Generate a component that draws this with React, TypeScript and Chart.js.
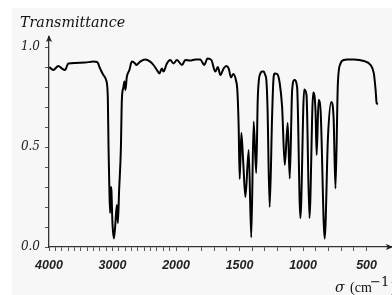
import React, { useEffect, useRef } from 'react';
import {
  Chart,
  LineController,
  LineElement,
  PointElement,
  LinearScale,
} from 'chart.js';

// ---- data (wavenumber in cm^-1, transmittance) ----
const wavenumbers = [
  3995, 3932, 3853, 3800, 3748, 3696, 3590, 3432, 3301, 3243, 3196, 3144, 3101, 3074,
  3063, 3050, 3038, 3025, 3017, 3001, 2979, 2959, 2932, 2916, 2896, 2869, 2853, 2828,
  2812, 2797, 2775, 2734, 2696, 2644, 2625, 2565, 2486, 2407, 2355, 2302, 2261, 2223,
  2198, 2144, 2092, 2040, 1993, 1953, 1927, 1888, 1849, 1809, 1778, 1752, 1722, 1691,
  1671, 1651, 1625, 1604, 1586, 1567, 1549, 1529, 1517, 1507, 1499, 1486, 1472, 1454,
  1428, 1408, 1389, 1369, 1357, 1348, 1336, 1322, 1310, 1298, 1289, 1280, 1263, 1244,
  1234, 1223, 1204, 1184, 1165, 1144, 1121, 1105, 1086, 1068, 1047, 1021, 991, 973,
  950, 920, 902, 893, 878, 862, 830, 804, 778, 760, 745, 726, 705, 680, 652, 600, 521,
  469, 443, 429, 421, 411,
];
const transmittance = [
  0.9, 0.885, 0.905, 0.893, 0.885, 0.918, 0.92, 0.922, 0.927, 0.925, 0.893, 0.86, 0.835, 0.75,
  0.5, 0.3, 0.17, 0.3, 0.28, 0.12, 0.043, 0.1, 0.21, 0.12, 0.285, 0.485, 0.735, 0.8,
  0.827, 0.785, 0.85, 0.885, 0.927, 0.918, 0.91, 0.927, 0.938, 0.927, 0.91, 0.885, 0.868, 0.893,
  0.877, 0.918, 0.935, 0.918, 0.935, 0.91, 0.935, 0.932, 0.938, 0.937, 0.91, 0.943, 0.935, 0.877,
  0.9, 0.86, 0.893, 0.905, 0.893, 0.848, 0.865, 0.835, 0.78, 0.6, 0.34, 0.57, 0.435, 0.25,
  0.485, 0.048, 0.627, 0.37, 0.735, 0.835, 0.868, 0.877, 0.877, 0.86, 0.835, 0.7, 0.2, 0.65,
  0.83, 0.868, 0.865, 0.82, 0.7, 0.41, 0.62, 0.343, 0.785, 0.835, 0.8, 0.145, 0.788, 0.76,
  0.145, 0.772, 0.68, 0.46, 0.735, 0.68, 0.043, 0.55, 0.725, 0.65, 0.293, 0.82, 0.918, 0.935, 0.938, 0.938, 0.93,
  0.91, 0.868, 0.785, 0.72, 0.715,
];

const xLabelValues = [4000, 3000, 2000, 1500, 1000, 500];
const yLabelValues = [0, 0.5, 1.0];
const xMin = 300;
const xMax = 4000;
const xTickStep = 100;
const xTickLast = 500;
const yMin = 0;
const yMax = 1.05;
const yTickStep = 0.1;
const yTickTop = 1.0;
const xBreak = 2000; // scale is compressed 2x above this wavenumber

// ---- custom split scale (compressed above xBreak) ----
const fwd = (v: number) => (v > xBreak ? xBreak + (v - xBreak) / 2 : v);
const inv = (u: number) => (u > xBreak ? xBreak + (u - xBreak) * 2 : u);

class SplitScale extends LinearScale {
  static id = 'irsplit';
  static defaults = LinearScale.defaults;
  getPixelForValue(value: number) {
    const a = fwd(this.min);
    const b = fwd(this.max);
    return this.getPixelForDecimal((fwd(value) - a) / (b - a));
  }
  getValueForPixel(pixel: number) {
    const a = fwd(this.min);
    const b = fwd(this.max);
    return inv(a + this.getDecimalForPixel(pixel) * (b - a));
  }
}

Chart.register(LineController, LineElement, PointElement, LinearScale, SplitScale as any);

const SERIF = '"DejaVu Serif", serif';

const decor = {
  id: 'decor',
  afterDraw(chart: any) {
    const ctx = chart.ctx as CanvasRenderingContext2D;
    const { left, right, top, bottom } = chart.chartArea;
    ctx.save();
    ctx.fillStyle = '#222';
    // y arrow
    ctx.beginPath();
    ctx.moveTo(left, top - 2);
    ctx.lineTo(left - 3, top + 5);
    ctx.lineTo(left, top + 3.5);
    ctx.lineTo(left + 3, top + 5);
    ctx.closePath();
    ctx.fill();
    // x arrow
    ctx.beginPath();
    ctx.moveTo(right + 1, bottom);
    ctx.lineTo(right - 6, bottom - 3);
    ctx.lineTo(right - 4.5, bottom);
    ctx.lineTo(right - 6, bottom + 3);
    ctx.closePath();
    ctx.fill();
    // titles
    ctx.fillStyle = '#111';
    ctx.textBaseline = 'alphabetic';
    ctx.textAlign = 'left';
    ctx.font = 'italic 14.3px ' + SERIF;
    ctx.fillText('Transmittance', 8, 19);
    ctx.font = 'italic 14px ' + SERIF;
    ctx.fillText('σ', 323, 284);
    ctx.font = '14px "Liberation Serif", serif';
    ctx.fillText('(cm', 338, 284);
    ctx.font = '13px ' + SERIF;
    ctx.fillText('−1', 358, 278);
    ctx.font = '14px "Liberation Serif", serif';
    ctx.fillText(')', 379, 284);
    ctx.restore();
  },
};

export default function App() {
  const ref = useRef<HTMLCanvasElement | null>(null);
  useEffect(() => {
    if (!ref.current) return;
    const xTicks: number[] = [];
    for (let v = xMax; v >= xTickLast; v -= xTickStep) xTicks.push(v);
    const yTicks: number[] = [];
    for (let i = 0; i <= Math.round((yTickTop - yMin) / yTickStep); i++) yTicks.push(+(yMin + i * yTickStep).toFixed(2));

    const chart = new Chart(ref.current, {
      type: 'line',
      data: {
        datasets: [
          {
            data: wavenumbers.map((w, i) => ({ x: w, y: transmittance[i] })),
            borderColor: '#000',
            borderWidth: 2,
            pointRadius: 0,
            fill: false,
            cubicInterpolationMode: 'monotone',
            tension: 0.4,
          },
        ],
      },
      options: {
        responsive: false,
        animation: false,
        devicePixelRatio: 1,
        layout: { padding: { top: 29, left: 0, right: 0, bottom: 0 } },
        plugins: { legend: { display: false }, tooltip: { enabled: false } },
        scales: {
          x: {
            type: 'irsplit' as any,
            min: xMin,
            max: xMax,
            reverse: true,
            afterBuildTicks: (s: any) => {
              s.ticks = xTicks.map((v) => ({ value: v }));
            },
            afterFit: (s: any) => {
              s.height = 48;
            },
            grid: { display: true, drawOnChartArea: false, drawTicks: true, tickLength: 4, color: '#555', tickWidth: 1 },
            border: { display: true, color: '#333', width: 1.3 },
            ticks: {
              autoSkip: false,
              maxRotation: 0,
              padding: 7,
              color: '#222',
              font: { family: '"Liberation Sans", sans-serif', size: 12.5, style: 'italic', weight: 'bold' },
              callback: (v: any) => (xLabelValues.includes(v) ? String(v) : ''),
            },
          },
          y: {
            type: 'linear',
            min: yMin,
            max: yMax,
            afterBuildTicks: (s: any) => {
              s.ticks = yTicks.map((v) => ({ value: v }));
            },
            afterFit: (s: any) => {
              s.width = 37;
            },
            grid: { display: true, drawOnChartArea: false, drawTicks: true, tickLength: 4, color: '#555', tickWidth: 1 },
            border: { display: true, color: '#333', width: 1.3 },
            ticks: {
              autoSkip: false,
              padding: 5,
              color: '#222',
              font: { family: SERIF, size: 12, style: 'italic' },
              callback: (v: any) =>
                yLabelValues.some((l) => Math.abs(l - v) < 1e-6) ? Number(v).toFixed(1) : '',
            },
          },
        },
      },
      plugins: [decor],
    });
    return () => chart.destroy();
  }, []);

  return (
    <div
      style={{
        position: 'fixed',
        left: 12,
        top: 8,
        width: 380,
        height: 287,
        background: '#f7f7f7',
        overflow: 'hidden',
      }}
    >
      <canvas ref={ref} width={380} height={287} style={{ display: 'block', width: 380, height: 287 }} />
    </div>
  );
}
